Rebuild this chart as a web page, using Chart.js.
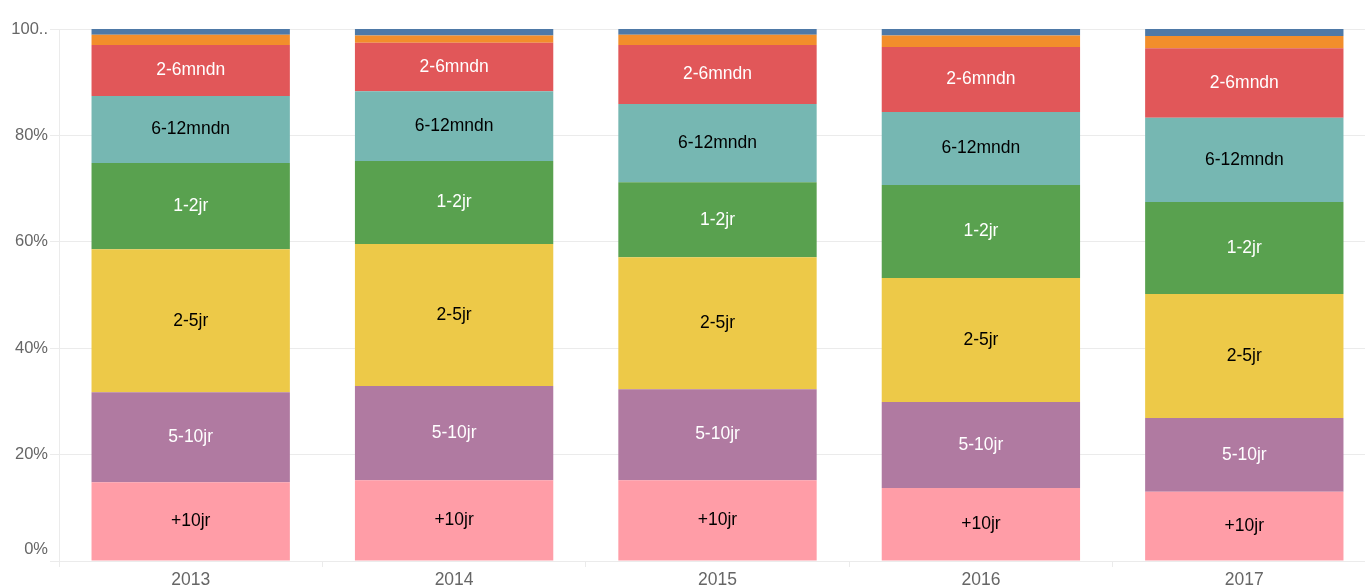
<!DOCTYPE html>
<html>
<head>
<meta charset="utf-8">
<script src="https://cdn.jsdelivr.net/npm/chart.js@4.4.1/dist/chart.umd.min.js"></script>
<style>
	body { margin: 0; overflow: hidden; background: #fff; }
	#wrap { width: 1376px; height: 588px; }
</style>
</head>
<body>
<div id="wrap"><canvas id="ageChart"></canvas></div>
<script>
// years on the x axis
const years = ['2013', '2014', '2015', '2016', '2017']

// share per age group, in percent, bottom to top
const plus10 = [14.8, 15.2, 15.2, 13.7, 13.0]
const y5to10 = [16.9, 17.7, 17.1, 16.2, 13.9]
const y2to5 = [26.9, 26.7, 24.8, 23.3, 23.3]
const y1to2 = [16.2, 15.6, 14.1, 17.5, 17.3]
const m6to12 = [12.6, 13.1, 14.7, 13.7, 15.8]
const m2to6 = [9.6, 9.1, 11.1, 12.2, 13.1]
const m1to2 = [1.9, 1.4, 1.9, 2.2, 2.3]
const m0to1 = [1.1, 1.2, 1.1, 1.2, 1.3]

const yTicks = [0, 20, 40, 60, 80, 100]

const series = [
	{ label: '+10jr', data: plus10, color: '#ff9da7', text: '#000' },
	{ label: '5-10jr', data: y5to10, color: '#b07aa1', text: '#fff' },
	{ label: '2-5jr', data: y2to5, color: '#edc948', text: '#000' },
	{ label: '1-2jr', data: y1to2, color: '#59a14f', text: '#fff' },
	{ label: '6-12mndn', data: m6to12, color: '#76b7b2', text: '#000' },
	{ label: '2-6mndn', data: m2to6, color: '#e15759', text: '#fff' },
	{ label: '1-2mndn', data: m1to2, color: '#f28e2b', text: null },
	{ label: '0-1mnd', data: m0to1, color: '#4e79a7', text: null },
]

const font = 'Liberation Sans, Arial, sans-serif'
const gridColor = '#ebebeb'

// write the group name in the middle of each segment
const segmentLabels = {
	id: 'segmentLabels',
	afterDatasetsDraw(chart) {
		const ctx = chart.ctx
		ctx.save()
		ctx.font = '17.5px ' + font
		ctx.textAlign = 'center'
		ctx.textBaseline = 'middle'
		chart.data.datasets.forEach((ds, i) => {
			const s = series[i]
			if (!s.text) return
			chart.getDatasetMeta(i).data.forEach((bar) => {
				ctx.fillStyle = s.text
				ctx.fillText(s.label, bar.x, (bar.y + bar.base) / 2)
			})
		})
		// the 0% label sits a bit above its grid line in the original
		const y = chart.scales.y
		ctx.font = '16.5px ' + font
		ctx.fillStyle = '#666'
		ctx.textAlign = 'right'
		ctx.fillText('0%', y.right - 11, y.getPixelForValue(0) - 12)
		ctx.restore()
	},
}

const ctx = document.getElementById('ageChart').getContext('2d')
const ageChart = new Chart(ctx, {
	type: 'bar',
	data: {
		labels: years,
		datasets: series.map((s) => ({
			label: s.label,
			data: s.data,
			backgroundColor: s.color,
			borderWidth: 0,
			barPercentage: 1,
			categoryPercentage: 0.753,
		})),
	},
	options: {
		responsive: true,
		maintainAspectRatio: false,
		animation: false,
		layout: { padding: { top: 29, right: 0, left: 0, bottom: 0 } },
		plugins: {
			legend: { display: false },
			tooltip: { enabled: false },
		},
		scales: {
			x: {
				stacked: true,
				afterFit: (scale) => { scale.height = 27 },
				grid: {
					color: gridColor,
					drawOnChartArea: false,
					tickLength: 6,
				},
				border: { color: gridColor },
				ticks: {
					color: '#666',
					padding: 3,
					font: { size: 17.5, family: font },
				},
			},
			y: {
				stacked: true,
				min: 0,
				max: 100,
				afterFit: (scale) => { scale.width = 59 },
				afterBuildTicks: (scale) => {
					scale.ticks = yTicks.map((v) => ({ value: v }))
				},
				grid: {
					color: gridColor,
					tickLength: 9,
				},
				border: { color: gridColor },
				ticks: {
					color: '#666',
					padding: 2,
					font: { size: 16.5, family: font },
					callback: (v) => (v === 100 ? '100..' : v === 0 ? '' : v + '%'),
				},
			},
		},
	},
	plugins: [segmentLabels],
})
</script>
</body>
</html>
